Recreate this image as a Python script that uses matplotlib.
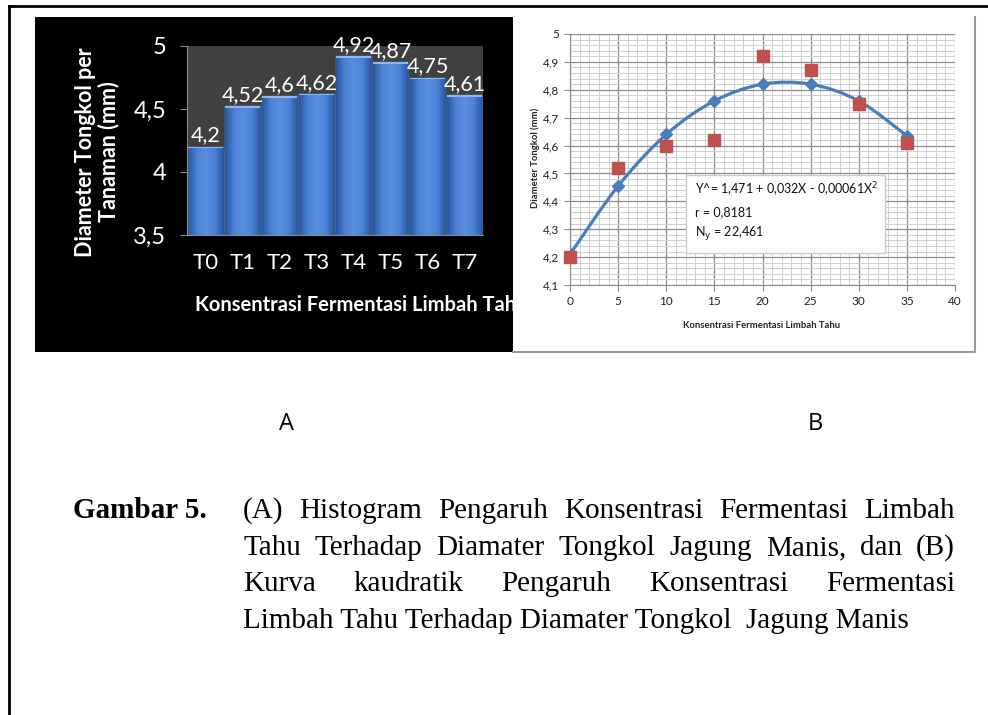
import matplotlib
matplotlib.use("Agg")
import matplotlib.pyplot as plt
import numpy as np
from matplotlib.path import Path
from matplotlib.patches import PathPatch, Rectangle
from matplotlib.lines import Line2D
from matplotlib.colors import LinearSegmentedColormap
from matplotlib.ticker import MultipleLocator

# data panel A (histogram)
perlakuan = ["T0", "T1", "T2", "T3", "T4", "T5", "T6", "T7"]
diameter = [4.2, 4.52, 4.6, 4.62, 4.92, 4.87, 4.75, 4.61]
label_bar = ["4,2", "4,52", "4,6", "4,62", "4,92", "4,87", "4,75", "4,61"]
yticks_a = [3.5, 4.0, 4.5, 5.0]
yticklabels_a = ["3,5", "4", "4,5", "5"]

# data panel B (kurva kuadratik)
konsentrasi = [0, 5, 10, 15, 20, 25, 30, 35]
observasi = [4.2, 4.52, 4.6, 4.62, 4.92, 4.87, 4.75, 4.61]
prediksi = [4.21, 4.455, 4.64, 4.76, 4.82, 4.82, 4.76, 4.635]
yticks_b = [4.1, 4.2, 4.3, 4.4, 4.5, 4.6, 4.7, 4.8, 4.9, 5.0]
yticklabels_b = ["4,1", "4,2", "4,3", "4,4", "4,5", "4,6", "4,7", "4,8", "4,9", "5"]
xticks_b = [0, 5, 10, 15, 20, 25, 30, 35, 40]

W, H = 988, 715
fig = plt.figure(figsize=(W / 100, H / 100), dpi=100)
fig.patch.set_facecolor("white")
sans = ["Lato", "DejaVu Sans"]


def fx(px):
    return px / W


def fy(py):
    return 1 - py / H


# page border (top and left)
fig.add_artist(Line2D([fx(9), 1], [fy(6), fy(6)], transform=fig.transFigure, color="black", lw=2))
fig.add_artist(Line2D([fx(9), fx(9)], [fy(6), 0], transform=fig.transFigure, color="black", lw=2))

# black panel behind chart A
fig.patches.append(Rectangle((fx(35), fy(352)), fx(478), 335 / H, transform=fig.transFigure,
                             facecolor="black", edgecolor="none", zorder=-1))

# ---------- panel A ----------
axA = fig.add_axes([fx(187), fy(235), fx(296), 189 / H])
axA.set_facecolor("#404040")
axA.set_zorder(0)
xs = np.arange(len(perlakuan))
bars = axA.bar(xs, diameter, width=0.95, bottom=0, color="#3f74c9", edgecolor="#6e9fe6", lw=1.0, zorder=2)
cmap = LinearSegmentedColormap.from_list("bevel", ["#2a559e", "#4c82d6", "#5a8fe0", "#4c82d6", "#2a559e"])
grad = np.linspace(0, 1, 64).reshape(1, -1)
for b in bars:
    im = axA.imshow(grad, cmap=cmap, aspect="auto", zorder=2.5,
                    extent=[b.get_x(), b.get_x() + b.get_width(), 3.5, b.get_height()])
    im.set_clip_path(b)
    # lighter top cap
    axA.bar(b.get_x() + b.get_width() / 2, 0.012, bottom=b.get_height() - 0.012,
            width=b.get_width(), color="#8fb6ee", lw=0, zorder=3)
for x, v, t in zip(xs, diameter, label_bar):
    axA.text(x, v + 0.01, t, ha="center", va="bottom", color="white", fontsize=15.5,
             family=sans, zorder=4, clip_on=False)
axA.set_xlim(-0.5, len(perlakuan) - 0.5)
axA.set_ylim(3.5, 5.0)
axA.set_yticks(yticks_a)
axA.set_yticklabels(yticklabels_a)
axA.set_xticks(xs)
axA.set_xticklabels(perlakuan)
axA.tick_params(axis="y", colors="#8a8a8a", labelcolor="white", labelsize=17, length=5, pad=10)
axA.tick_params(axis="x", length=0, labelcolor="white", labelsize=16, pad=13)
for lab in axA.get_xticklabels() + axA.get_yticklabels():
    lab.set_family(sans)
for s in ["top", "right"]:
    axA.spines[s].set_visible(False)
axA.spines["left"].set_color("#8a8a8a")
axA.spines["bottom"].set_color("#8a8a8a")

fig.text(fx(97), fy(152), "Diameter Tongkol per\nTanaman (mm)", rotation=90, ha="center", va="center",
         color="white", fontsize=15.5, fontweight="bold", family=sans,
         multialignment="center", linespacing=1.1, zorder=0.2)
fig.text(fx(195), fy(305), "Konsentrasi Fermentasi Limbah Tahu", ha="left", va="center", color="white",
         fontsize=14.5, fontweight="bold", family=sans, zorder=0.2)

# white panel for chart B (covers the clipped label of A)
fig.patches.append(Rectangle((fx(513), fy(352)), fx(462), 335 / H, transform=fig.transFigure,
                             facecolor="white", edgecolor="none", zorder=0.5))
fig.add_artist(Line2D([fx(513), fx(975), fx(975)], [fy(352), fy(352), fy(17)], transform=fig.transFigure,
                      color="#9a9a9a", lw=1.5, zorder=0.6))

# ---------- panel B ----------
axB = fig.add_axes([fx(570), fy(285), fx(385), 251 / H])
axB.set_zorder(1)
axB.set_xlim(0, 40)
axB.set_ylim(4.1, 5.0)
axB.set_xticks(xticks_b)
axB.set_yticks(yticks_b)
axB.set_yticklabels(yticklabels_b)
axB.xaxis.set_minor_locator(MultipleLocator(1))
axB.yaxis.set_minor_locator(MultipleLocator(0.02))
axB.grid(which="major", color="#8c8c8c", lw=0.9)
axB.grid(which="minor", color="#cfcfcf", lw=0.7)
axB.set_axisbelow(True)
axB.tick_params(which="minor", length=0)
axB.tick_params(which="major", length=4, color="#8c8c8c", labelsize=8.5, labelcolor="#222222", pad=4)
for lab in axB.get_xticklabels() + axB.get_yticklabels():
    lab.set_family(sans)
for s in ["top", "right"]:
    axB.spines[s].set_visible(False)
axB.spines["left"].set_color("#8c8c8c")
axB.spines["bottom"].set_color("#8c8c8c")

# smooth line through predicted values (Catmull-Rom as cubic Bezier)
pts = np.column_stack([konsentrasi, prediksi]).astype(float)
ext = np.vstack([pts[0], pts, pts[-1]])
verts = [tuple(pts[0])]
codes = [Path.MOVETO]
for i in range(1, len(ext) - 2):
    p0, p1, p2, p3 = ext[i - 1], ext[i], ext[i + 1], ext[i + 2]
    verts += [tuple(p1 + (p2 - p0) / 6), tuple(p2 - (p3 - p1) / 6), tuple(p2)]
    codes += [Path.CURVE4] * 3
axB.add_patch(PathPatch(Path(verts, codes), facecolor="none", edgecolor="#4a7ebb", lw=2.3, zorder=3))
axB.plot(konsentrasi, prediksi, ls="none", marker="D", ms=6, color="#4a7ebb", zorder=4)
axB.plot(konsentrasi, observasi, ls="none", marker="s", ms=8, color="#c0504d", zorder=5, clip_on=False)

axB.add_patch(Rectangle((0.301, 0.127), 0.517, 0.311, transform=axB.transAxes, facecolor="white",
                        edgecolor="#cccccc", lw=1, zorder=6))
box_lines = ["Y^= 1,471 + 0,032X - 0,00061X$^2$", "r = 0,8181", r"N$_\mathrm{y}$ = 22,461"]
for t, yy in zip(box_lines, [0.378, 0.29, 0.205]):
    axB.text(0.325, yy, t, transform=axB.transAxes, ha="left", va="center", fontsize=9,
             family=sans, color="#111111", zorder=7)

fig.text(fx(762), fy(325), "Konsentrasi Fermentasi Limbah Tahu", ha="center", va="center", fontsize=6.8,
         fontweight="bold", family=sans, color="#222222", zorder=2)
fig.text(fx(535), fy(158), "Diameter Tongkol (mm)", rotation=90, ha="center", va="center", fontsize=6.8,
         fontweight="bold", family=sans, color="#222222", zorder=2)

# ---------- caption ----------
fig.text(fx(286), fy(424), "A", ha="center", va="center", fontsize=17, family=["Open Sans", "DejaVu Sans"])
fig.text(fx(815), fy(424), "B", ha="center", va="center", fontsize=17, family=["Open Sans", "DejaVu Sans"])
serif = ["Liberation Serif", "DejaVu Serif"]
fs = 21
fig.text(fx(73), fy(518), "Gambar 5.", ha="left", va="baseline", fontsize=fs, fontweight="bold", family=serif)

paragraf = [
    "(A) Histogram Pengaruh  Konsentrasi Fermentasi  Limbah",
    "Tahu Terhadap Diamater Tongkol  Jagung Manis, dan (B)",
    "Kurva  kaudratik  Pengaruh   Konsentrasi  Fermentasi",
    "Limbah Tahu Terhadap Diamater Tongkol  Jagung Manis",
]
baselines = [518, 555, 591, 628]
x_left, x_right = 243, 955
renderer = fig.canvas.get_renderer()
for i, (line, yb) in enumerate(zip(paragraf, baselines)):
    if i == len(paragraf) - 1:
        fig.text(fx(x_left), fy(yb), line, ha="left", va="baseline", fontsize=fs, family=serif)
        continue
    words = line.split()
    texts = [fig.text(0, fy(yb), w, ha="left", va="baseline", fontsize=fs, family=serif) for w in words]
    widths = [t.get_window_extent(renderer).width for t in texts]
    gap = (x_right - x_left - sum(widths)) / (len(words) - 1)
    xpos = x_left
    for t, w in zip(texts, widths):
        t.set_x(fx(xpos))
        xpos += w + gap

fig.savefig("out.png", dpi=100)
